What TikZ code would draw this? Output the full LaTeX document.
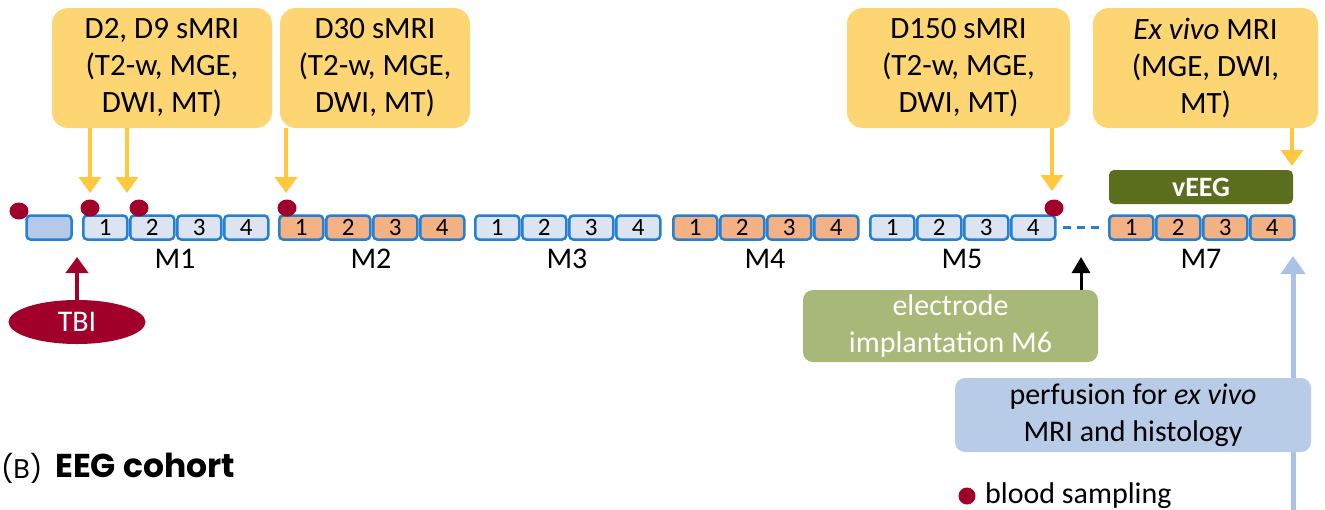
\documentclass[tikz,border=0pt]{standalone}
\usepackage{fontspec}
\setmainfont{Carlito}
\newfontfamily\popfont{Poppins}
\usetikzlibrary{arrows.meta,shapes.geometric}
\definecolor{yboxc}{HTML}{FDD673}
\definecolor{yarrc}{HTML}{FFC83D}
\definecolor{dredc}{HTML}{A0002A}
\definecolor{cellb}{HTML}{2480D2}
\definecolor{lcell}{HTML}{DCE4F2}
\definecolor{ocell}{HTML}{F4B183}
\definecolor{firstc}{HTML}{B7C9E8}
\definecolor{veegc}{HTML}{5B6E1E}
\definecolor{elecc}{HTML}{A8B878}
\definecolor{perfc}{HTML}{B8CCE8}
\definecolor{blinec}{HTML}{A9C3E6}
\begin{document}
\begin{tikzpicture}[x=1pt,y=-1pt,
  ybox/.style={fill=yboxc, rounded corners=16pt, align=center, inner sep=0pt,
    font=\fontsize{31}{37}\selectfont},
  cell/.style={draw=cellb, line width=2.5pt, rounded corners=4pt, minimum width=44pt,
    minimum height=24pt, inner sep=0pt, font=\fontsize{25}{25}\selectfont},
  mlab/.style={inner sep=0pt, font=\fontsize{30}{30}\selectfont},
  bdot/.style={ellipse, fill=dredc, minimum width=19pt, minimum height=17pt, inner sep=0pt},
  yarrow/.style={draw=yarrc, line width=4.5pt, -{Triangle[width=22pt,length=16pt]}},
  darrow/.style={draw=dredc, line width=4.5pt, -{Triangle[width=22pt,length=16pt]}},
  karrow/.style={draw=black, line width=3pt, -{Triangle[width=18pt,length=16pt]}},
  barrow/.style={draw=blinec, line width=5pt, -{Triangle[width=24pt,length=18pt]}},
  dline/.style={draw=cellb, line width=2.5pt, dash pattern=on 8pt off 6pt},
  txt/.style={inner sep=0pt, font=\fontsize{30}{37}\selectfont, align=center}
]
\useasboundingbox (0,0) rectangle (1325,509);

% top boxes
\node[ybox, minimum width=220pt, minimum height=120pt] (b1) at (162,68)
  {D2, D9 sMRI\\(T2-w, MGE,\\DWI, MT)};
\node[ybox, minimum width=190pt, minimum height=120pt] (b2) at (375,68)
  {D30 sMRI\\(T2-w, MGE,\\DWI, MT)};
\node[ybox, minimum width=223pt, minimum height=120pt] (b3) at (958.5,68)
  {D150 sMRI\\(T2-w, MGE,\\DWI, MT)};
\node[ybox, minimum width=225pt, minimum height=120pt] (b4) at (1205.5,68)
  {\textit{Ex vivo} MRI\\(MGE, DWI,\\MT)};

% first empty box
\node[cell, fill=firstc, minimum width=45pt] (m0) at (49,227.5) {};

% timeline cells
\foreach \g/\gx/\col/\lab in {1/82/lcell/M1, 2/278/ocell/M2, 3/474/lcell/M3,
                               4/672/ocell/M4, 5/869/lcell/M5, 7/1108/ocell/M7} {
  \foreach \i in {1,...,4} {
    \node[cell, fill=\col] (m\g-\i) at ({\gx+23.25+(\i-1)*47},227.5) {\i};
  }
  \node[mlab] (lab\g) at (\gx+93,259) {\lab};
}

% dashed gap
\draw[dline, shorten <=6pt, shorten >=5pt] (m5-4.east) -- (m7-1.west);

% vEEG
\node[fill=veegc, rounded corners=5pt, minimum width=184pt, minimum height=34pt,
  inner sep=0pt, text=white, font=\fontsize{28}{28}\selectfont\bfseries] (veeg) at (1201,187) {vEEG};

% tip coordinates
\coordinate (t1) at (90,193);
\coordinate (t2) at (127,193);
\coordinate (t3) at (286,193);
\coordinate (t4) at (1052,191);
\coordinate (t5) at (1292,166);
\coordinate (tE) at (1081,257);
\coordinate (tB) at (1293,256);
\coordinate (bB) at (1293,512);
\coordinate (tT) at (77,257);

% yellow arrows
\draw[yarrow] (b1.south -| t1) -- (t1);
\draw[yarrow] (b1.south -| t2) -- (t2);
\draw[yarrow] (b2.south -| t3) -- (t3);
\draw[yarrow] (b3.south -| t4) -- (t4);
\draw[yarrow] (b4.south -| t5) -- (t5);

% blood dots
\node[bdot] (d0) at (19,211) {};
\node[bdot] (d1) at (90,208) {};
\node[bdot] (d2) at (139,208) {};
\node[bdot] (d3) at (287,208) {};
\node[bdot] (d4) at (1054,208) {};

% TBI
\node[ellipse, fill=dredc, minimum width=137pt, minimum height=44pt, inner sep=0pt,
  text=white, font=\fontsize{30}{30}\selectfont] (tbi) at (77,322) {TBI};
\draw[darrow] (tbi.north) -- (tT);

% electrode implantation
\node[fill=elecc, rounded corners=10pt, minimum width=295pt, minimum height=72pt,
  text=white, txt] (elec) at (950.5,326) {electrode\\implantation M6};
\draw[karrow] (elec.north -| tE) -- (tE);

% blue line and perfusion box
\draw[barrow] (bB) -- (tB);
\node[fill=perfc, rounded corners=10pt, minimum width=356pt, minimum height=74pt,
  txt] (perf) at (1133,415) {perfusion for \textit{ex vivo}\\MRI and histology};

% legend
\node[circle, fill=dredc, minimum size=17pt, inner sep=0pt] (legdot) at (967,496) {};
\node[txt, anchor=base west] (legtxt) at (985,503) {blood sampling};

% title
\node[inner sep=0pt, anchor=base west, font=\popfont\fontsize{27}{27}\selectfont] (blab) at (1,478) {(B)};
\node[inner sep=0pt, anchor=base west, font=\popfont\bfseries\fontsize{33}{33}\selectfont] (title) at (55,477) {EEG cohort};
\end{tikzpicture}
\end{document}
